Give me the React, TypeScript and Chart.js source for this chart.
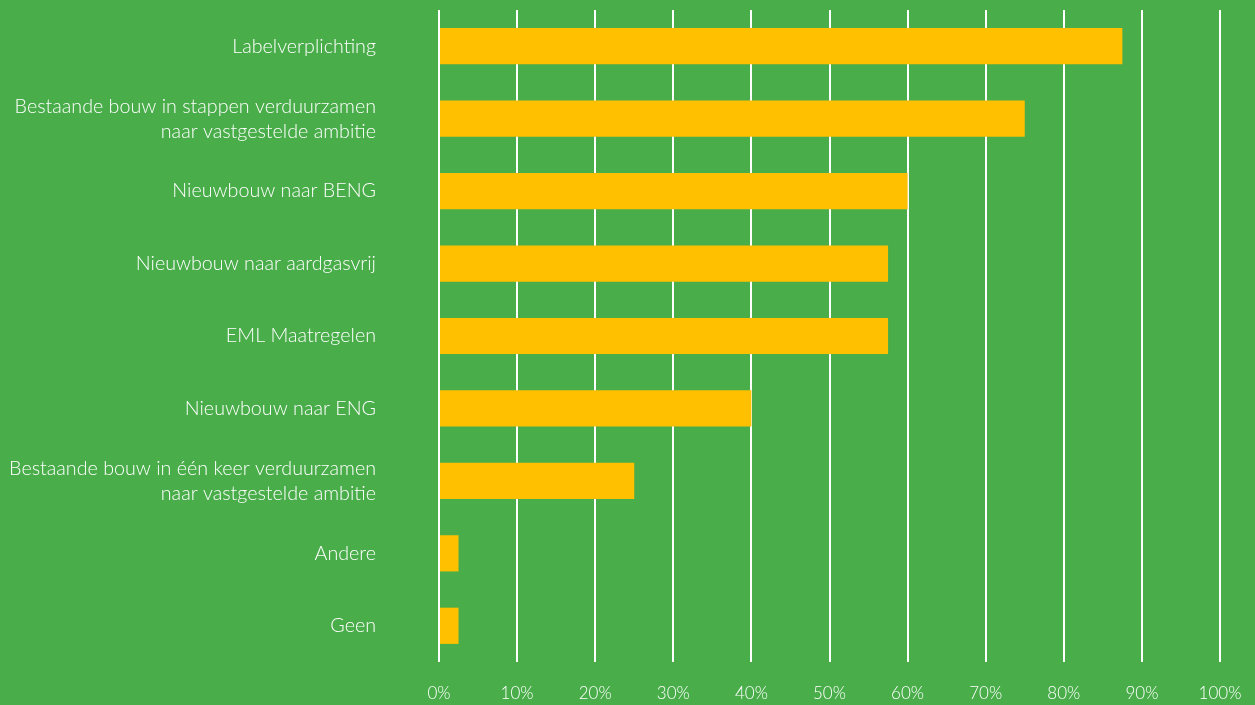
import React, { useEffect, useRef } from "react";
import { Chart, registerables } from "chart.js";

Chart.register(...registerables);

const categories: (string | string[])[] = [
  "Labelverplichting",
  ["Bestaande bouw in stappen verduurzamen", "naar vastgestelde ambitie"],
  "Nieuwbouw naar BENG",
  "Nieuwbouw naar aardgasvrij",
  "EML Maatregelen",
  "Nieuwbouw naar ENG",
  ["Bestaande bouw in één keer verduurzamen", "naar vastgestelde ambitie"],
  "Andere",
  "Geen",
];
const values = [87.5, 75, 60, 57.5, 57.5, 40, 25, 2.5, 2.5];
const xTicks = [0, 10, 20, 30, 40, 50, 60, 70, 80, 90, 100];

const BG = "#49AD4A";
const BAR = "#FFC000";
const FONT = "Lato, 'Open Sans', sans-serif";

export default function App() {
  const ref = useRef<HTMLCanvasElement | null>(null);
  useEffect(() => {
    document.body.style.margin = "0";
    const ctx = ref.current!;
    const chart = new Chart(ctx, {
      type: "bar",
      data: {
        labels: categories,
        datasets: [
          {
            data: values,
            backgroundColor: BAR,
            borderWidth: 0,
            barPercentage: 0.5,
            categoryPercentage: 1,
          },
        ],
      },
      options: {
        indexAxis: "y",
        animation: false,
        responsive: false,
        maintainAspectRatio: false,
        layout: { padding: 0 },
        plugins: { legend: { display: false }, tooltip: { enabled: false } },
        scales: {
          x: {
            min: 0,
            max: 100,
            afterBuildTicks: (s: any) => {
              s.ticks = xTicks.map((v) => ({ value: v }));
            },
            afterFit: (s: any) => {
              s.height = 43;
              s.paddingLeft = 0;
              s.paddingRight = 35;
            },
            grid: {
              color: "#FFFFFF",
              lineWidth: 2,
              drawTicks: true,
              tickLength: 21,
              tickColor: "rgba(0,0,0,0)",
            },
            border: { display: false },
            ticks: {
              color: "#FFFFFF",
              padding: 0,
              font: { family: FONT, size: 17, weight: 300 },
              callback: (v: any) => v + "%",
              maxRotation: 0,
            },
          },
          y: {
            afterFit: (s: any) => {
              s.width = 439;
              s.paddingTop = 10;
              s.paddingBottom = 0;
            },
            grid: {
              display: true,
              drawOnChartArea: false,
              drawTicks: true,
              tickLength: 63,
              tickColor: "rgba(0,0,0,0)",
            },
            border: { display: false },
            ticks: {
              color: "#FFFFFF",
              padding: 0,
              font: { family: FONT, size: 19.7, weight: 300, lineHeight: 1.27 },
            },
          },
        },
      },
    });
    return () => chart.destroy();
  }, []);
  return (
    <div style={{ position: "fixed", left: 0, top: 0, width: 1255, height: 705, background: BG }}>
      <canvas ref={ref} width={1255} height={705} style={{ width: 1255, height: 705, display: "block" }} />
    </div>
  );
}
